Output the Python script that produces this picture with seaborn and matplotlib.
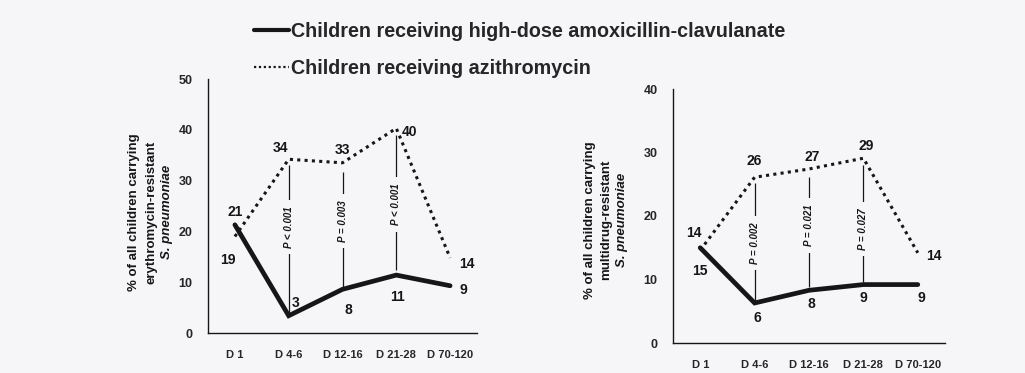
import matplotlib
matplotlib.use("Agg")
import matplotlib.pyplot as plt
import seaborn as sns
import pandas as pd
from matplotlib.lines import Line2D

days = ["D 1", "D 4-6", "D 12-16", "D 21-28", "D 70-120"]

# erythromycin-resistant (left panel)
ery_amox = [21.3, 3.4, 8.6, 11.4, 9.3]
ery_azi = [19.0, 34.2, 33.5, 40.3, 14.8]
# multidrug-resistant (right panel)
mdr_amox = [15.0, 6.3, 8.3, 9.2, 9.2]
mdr_azi = [14.6, 26.1, 27.4, 29.1, 14.2]

# printed value labels: (text, x, y)
ery_labels = [("21", 0.0, 23.8), ("19", -0.13, 14.4), ("34", 0.84, 36.4), ("3", 1.12, 5.9),
              ("33", 1.99, 36.0), ("8", 2.1, 4.5), ("40", 3.25, 39.6), ("11", 3.03, 7.1),
              ("14", 4.31, 13.6), ("9", 4.24, 8.5)]
mdr_labels = [("14", -0.11, 17.3), ("15", 0.0, 11.3), ("26", 1.0, 28.7), ("6", 1.05, 3.9),
              ("27", 2.05, 29.3), ("8", 2.05, 6.1), ("29", 3.05, 31.0), ("9", 3.0, 7.1),
              ("14", 4.3, 13.7), ("9", 4.06, 7.1)]

# p-value brackets: (x, top, bottom, text, text_y)
ery_p = [(1, 33.1, 3.9, "P < 0.001", 20.8), (2, 31.7, 9.0, "P = 0.003", 22.1),
         (3, 39.0, 12.4, "P < 0.001", 25.3)]
mdr_p = [(1, 25.2, 6.5, "P = 0.002", 15.7), (2, 26.1, 8.8, "P = 0.021", 18.5),
         (3, 28.0, 9.6, "P = 0.027", 18.0)]

bg = "#f6f6f9"
ink = "#161616"

sns.set_style("white")
plt.rcParams["font.family"] = ["Liberation Sans", "DejaVu Sans"]
plt.rcParams["font.weight"] = "bold"

fig = plt.figure(figsize=(10.25, 3.73), dpi=100, facecolor=bg)
ax1 = fig.add_axes([208 / 1025, 1 - 333 / 373, 269 / 1025, 254 / 373])
ax2 = fig.add_axes([673 / 1025, 1 - 343 / 373, 272 / 1025, 254 / 373])

dot = (0, (1, 1.4))


def panel(ax, amox, azi, labels, pvals, ymax, ylines, ycenter):
    ax.set_facecolor(bg)
    x = list(range(len(days)))
    d1 = pd.DataFrame({"x": x, "v": amox})
    d2 = pd.DataFrame({"x": x, "v": azi})
    sns.lineplot(data=d2, x="x", y="v", ax=ax, color=ink, lw=2.2, linestyle=dot)
    sns.lineplot(data=d1, x="x", y="v", ax=ax, color=ink, lw=3.4,
                 solid_joinstyle="miter")
    for xp, top, bot, txt, ty in pvals:
        ax.vlines(xp, bot, top, color=ink, lw=0.9)
        ax.text(xp, ty, txt, rotation=90, ha="center", va="center", fontsize=7,
                style="italic", fontweight="bold", color=ink,
                bbox=dict(facecolor=bg, edgecolor="none", pad=4.5))
    for txt, xp, yp in labels:
        ax.text(xp, yp, txt, ha="center", va="center", fontsize=10,
                fontweight="bold", color=ink)
    ax.set_xlim(-0.5, 4.5)
    ax.set_ylim(0, ymax)
    ax.set_xticks(x)
    ax.set_xticklabels(days, fontsize=8, fontweight="bold")
    ax.set_xticks([i - 0.5 for i in range(6)], minor=True)
    ax.tick_params(axis="x", which="major", length=0, pad=12)
    ax.tick_params(axis="x", which="minor", length=4, width=0.9, direction="out", color=ink)
    ax.set_yticks(range(0, ymax + 1, 10))
    ax.tick_params(axis="y", length=4, width=0.9, direction="out", color=ink, labelsize=9, pad=7)
    for t in ax.get_yticklabels():
        t.set_fontweight("bold")
    ax.set_xlabel("")
    ax.set_ylabel("")
    for s in ["top", "right"]:
        ax.spines[s].set_visible(False)
    for s in ["left", "bottom"]:
        ax.spines[s].set_color(ink)
        ax.spines[s].set_linewidth(1.0)
    # stacked y-label lines
    for (txt, xo, st) in ylines:
        ax.text(xo, ycenter, txt, rotation=90, ha="center", va="center",
                transform=ax.transAxes, fontsize=9.5, fontweight="bold",
                style=st, color=ink)


panel(ax1, ery_amox, ery_azi, ery_labels, ery_p, 50,
      [("% of all children carrying", -74 / 269, "normal"),
       ("erythromycin-resistant", -56 / 269, "normal"),
       ("S. pneumoniae", -41 / 269, "italic")], 0.476)
panel(ax2, mdr_amox, mdr_azi, mdr_labels, mdr_p, 40,
      [("% of all children carrying", -83 / 272, "normal"),
       ("multidrug-resistant", -67 / 272, "normal"),
       ("S. pneumoniae", -51 / 272, "italic")], 0.484)

handles = [Line2D([], [], color=ink, lw=3.0),
           Line2D([], [], color=ink, lw=1.6, linestyle=(0, (1, 1.2)))]
fig.legend(handles, ["Children receiving high-dose amoxicillin-clavulanate",
                     "Children receiving azithromycin"],
           loc="upper left", bbox_to_anchor=(254 / 1025, 1 - 22 / 373),
           frameon=False, handlelength=1.75, handletextpad=0.15,
           labelspacing=0.9, borderpad=0, borderaxespad=0,
           prop={"weight": "bold", "size": 14.2})

fig.savefig("out.png", dpi=100, facecolor=bg)
